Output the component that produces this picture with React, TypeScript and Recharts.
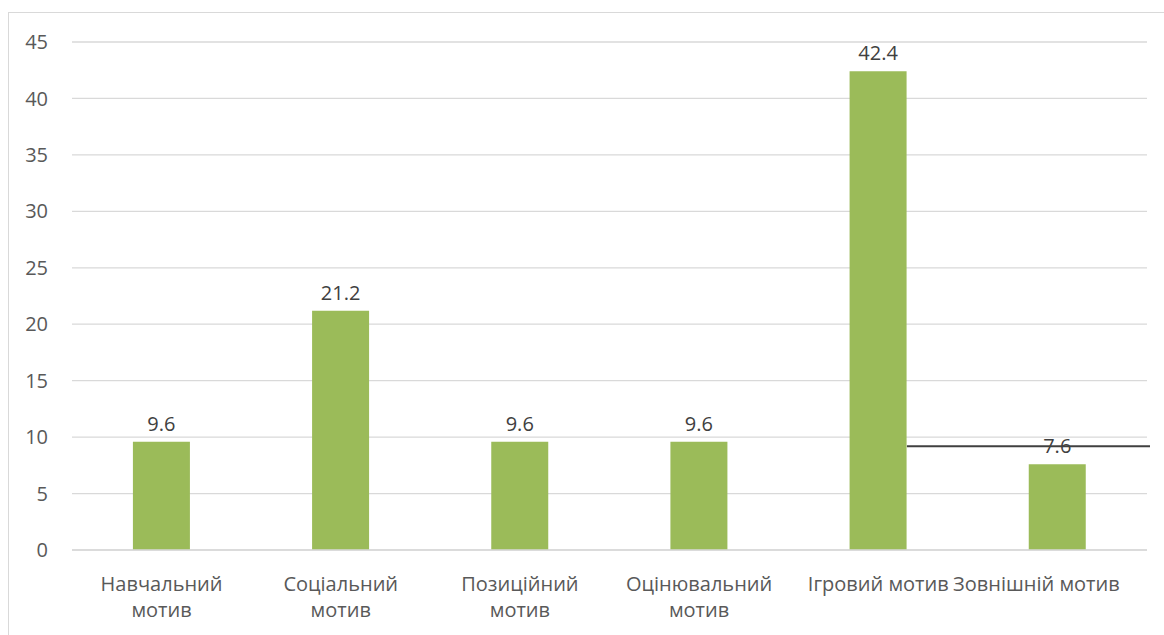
import React from "react";
import { BarChart, Bar, XAxis, YAxis, CartesianGrid, LabelList, ReferenceLine } from "recharts";

const categories = ["Навчальний мотив", "Соціальний мотив", "Позиційний мотив", "Оцінювальний мотив", "Ігровий мотив", "Зовнішній мотив"];
const tickLines = [["Навчальний", "мотив"], ["Соціальний", "мотив"], ["Позиційний", "мотив"], ["Оцінювальний", "мотив"], ["Ігровий мотив"], ["Зовнішній мотив"]];
const values = [9.6, 21.2, 9.6, 9.6, 42.4, 7.6];
const yTicks = [0, 5, 10, 15, 20, 25, 30, 35, 40, 45];
const strayLineValue = 9.2;
const strayLineFromCategory = 4;

const data = categories.map((c, i) => ({ name: c, value: values[i] }));

const FONT = "'Open Sans', sans-serif";
const FS = 20;

const XTick = (props: any) => {
  const { x, y, index } = props;
  const lines = tickLines[index] || [];
  const isLast = index === tickLines.length - 1;
  return (
    <g>
      {lines.map((l, i) => (
        <text
          key={i}
          x={x}
          dx={isLast ? -21 : 0}
          y={y + 33 + i * 26}
          textAnchor="middle"
          fill="#595959"
          fontSize={FS}
          fontFamily={FONT}
        >
          {l}
        </text>
      ))}
    </g>
  );
};

export default function App() {
  const n = categories.length;
  return (
    <div>
      <style>{`body{margin:0;overflow:hidden;background:#fff}`}</style>
      <div
        style={{
          position: "absolute",
          left: 8,
          top: 12,
          width: 1156,
          height: 623,
          borderLeft: "1px solid #D9D9D9",
          borderTop: "1px solid #D9D9D9",
        }}
      >
        <BarChart
          width={1155}
          height={622}
          data={data}
          margin={{ top: 29, right: 17, left: 0, bottom: 0 }}
          barCategoryGap="34%"
        >
          <CartesianGrid vertical={false} stroke="#D9D9D9" strokeWidth={1.3} />
          <XAxis
            dataKey="name"
            height={85}
            interval={0}
            tickLine={false}
            axisLine={{ stroke: "#D9D9D9", strokeWidth: 1.3 }}
            tick={<XTick />}
          />
          <YAxis
            width={63}
            domain={[0, 45]}
            ticks={yTicks}
            tickLine={false}
            axisLine={false}
            tickSize={0}
            tickMargin={24}
            tick={{ fill: "#595959", fontSize: FS, fontFamily: FONT }}
          />
          <Bar dataKey="value" fill="#9BBB59" isAnimationActive={false}>
            <LabelList dataKey="value" position="top" offset={11} fill="#404040" fontSize={FS} fontFamily={FONT} />
          </Bar>
          <ReferenceLine
            y={strayLineValue}
            shape={(p: any) => {
              const band = (p.x2 - p.x1) / n;
              const start = p.x1 + band * (strayLineFromCategory + 0.5) + band * 0.16;
              return <line x1={start} y1={p.y1} x2={p.x2 + 3} y2={p.y2} stroke="#404040" strokeWidth={2} />;
            }}
          />
        </BarChart>
      </div>
    </div>
  );
}
